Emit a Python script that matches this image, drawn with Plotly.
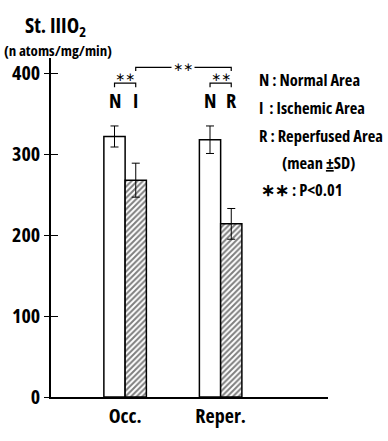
import plotly.graph_objects as go

# ---- data ----
groups = ["Occ.", "Reper."]
normal_mean = [322, 318]
normal_sd = [13, 17]
affected_mean = [268, 214]
affected_sd = [21, 19]
top_labels_left = ["N", "N"]
top_labels_right = ["I", "R"]
y_ticks = [0, 100, 200, 300, 400]

FONT = "Open Sans"


def C(t):
    return f"<span style='font-stretch:75%'>{t}</span>"


W, H = 388, 441
L, R, T, B = 45, 60, 58, 27
PW, PH = W - L - R, H - T - B
YMAX = 419


def pxx(x):
    return (x - L) / PW


def pxy(y):
    return (H - B - y) / PH


fig = go.Figure()
fig.add_trace(go.Bar(
    x=[0, 1], y=normal_mean, name="N",
    marker=dict(color="white", line=dict(color="black", width=1.5)),
    error_y=dict(type="data", array=normal_sd, color="black", thickness=1, width=4),
))
fig.add_trace(go.Bar(
    x=[0, 1], y=affected_mean, name="I/R",
    marker=dict(color="white", line=dict(color="black", width=1.5),
                pattern=dict(shape="/", fgcolor="black", bgcolor="white", size=4, solidity=0.5)),
    error_y=dict(type="data", array=affected_sd, color="black", thickness=1, width=4),
))

half = 0.111  # half bar offset in category units

shapes = []
annotations = []
for i in range(2):
    xl, xr = i - half, i + half
    yb, yt = 383, 388
    shapes.append(dict(type="path", xref="x", yref="y",
                       path=f"M {xl} {yb} L {xl} {yt} L {xr} {yt} L {xr} {yb}",
                       line=dict(color="black", width=1.2)))
    annotations.append(dict(x=i, y=395, xref="x", yref="y", text="∗∗", showarrow=False,
                            yanchor="middle", font=dict(family="DejaVu Sans", size=12, color="black")))
    annotations.append(dict(x=xl, y=366, xref="x", yref="y", text=C(top_labels_left[i]), showarrow=False,
                            yanchor="middle", font=dict(family=FONT, size=20, color="black", weight="bold")))
    annotations.append(dict(x=xr, y=366, xref="x", yref="y", text=C(top_labels_right[i]), showarrow=False,
                            yanchor="middle", font=dict(family=FONT, size=20, color="black", weight="bold")))

shapes.append(dict(type="path", xref="x", yref="y",
                   path=f"M {half} 403 L {half} 407.5 L {1 + half} 407.5 L {1 + half} 403",
                   line=dict(color="black", width=1.2)))
annotations.append(dict(x=0.5 + half, y=407.5, xref="x", yref="y", text="∗∗", showarrow=False,
                        bgcolor="white", borderpad=1, yanchor="middle",
                        font=dict(family="DejaVu Sans", size=12, color="black")))

annotations.append(dict(x=pxx(50), y=pxy(24), xref="paper", yref="paper",
                        xanchor="center", yanchor="middle",
                        text=C("St. IIIO<sub>2</sub>"), showarrow=False,
                        font=dict(family=FONT, size=21, color="black", weight="bold")))
annotations.append(dict(x=pxx(52), y=pxy(50), xref="paper", yref="paper",
                        xanchor="center", yanchor="middle",
                        text=C("(n atoms/mg/min)"), showarrow=False,
                        font=dict(family=FONT, size=15, color="black", weight="bold")))

legend_lines = [
    (255, 81, "N : Normal Area"),
    (255, 110, "I  : Ischemic Area"),
    (255, 139, "R : Reperfused Area"),
    (279, 168, "(mean <u>±</u>SD)"),
    (257, 196, "∗∗ : P&lt;0.01"),
]
for x, y, t in legend_lines:
    annotations.append(dict(x=pxx(x), y=pxy(y), xref="paper", yref="paper", text=C(t),
                            xanchor="left", yanchor="middle", showarrow=False,
                            font=dict(family=FONT, size=16.5, color="black", weight="bold")))

fig.update_layout(
    width=W, height=H,
    margin=dict(l=L, r=R, t=T, b=B, pad=0),
    paper_bgcolor="white", plot_bgcolor="white",
    barmode="group", bargap=0.555, bargroupgap=0,
    showlegend=False,
    shapes=shapes, annotations=annotations,
    font=dict(family=FONT, color="black"),
    xaxis=dict(range=[-0.776, 2.124], tickvals=[0, 1], ticktext=[C(g) for g in groups],
               showline=True, linecolor="black", linewidth=1.5, ticks="",
               showgrid=False, zeroline=False,
               tickfont=dict(family=FONT, size=20, color="black", weight="bold")),
    yaxis=dict(range=[0, YMAX], tickvals=y_ticks, ticktext=[C(str(v)) for v in y_ticks],
               showline=True, linecolor="black", linewidth=1.5,
               ticks="outside", ticklen=5, tickcolor="black", tickwidth=1,
               showgrid=False, zeroline=False,
               tickfont=dict(family=FONT, size=20, color="black", weight="bold")),
    yaxis2=dict(range=[0, YMAX], tickvals=y_ticks, overlaying="y", side="left",
                ticks="inside", ticklen=7, tickcolor="black", tickwidth=1,
                showticklabels=False, showgrid=False, zeroline=False, showline=False),
)
fig.add_trace(go.Scatter(x=[0], y=[0], yaxis="y2", mode="markers",
                         marker=dict(opacity=0), hoverinfo="skip", showlegend=False))

fig.write_html("out.html", config={"displayModeBar": False},
               post_script="document.documentElement.style.margin='0';document.body.style.margin='0';"
                           "document.body.style.padding='0';document.body.style.overflow='hidden';"
                           "document.documentElement.style.overflow='hidden';")
